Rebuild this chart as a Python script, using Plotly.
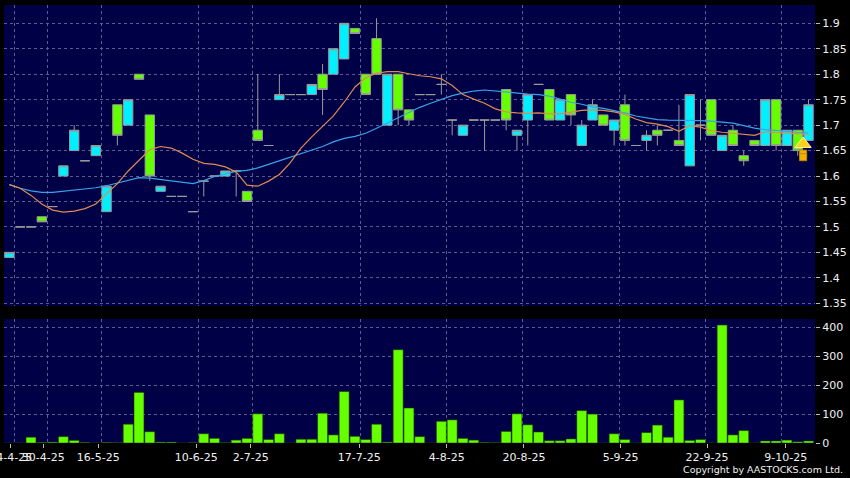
import plotly.graph_objects as go

# ---- data ----
idx = list(range(75))

opens = [1.44, 1.50, 1.50, 1.52, 1.54, 1.60, 1.65, 1.63, 1.64, 1.53,
         1.74, 1.70, 1.80, 1.72, 1.57, 1.56, 1.56, 1.53, 1.59, 1.60,
         1.60, 1.61, 1.57, 1.69, 1.66, 1.75, 1.76, 1.76, 1.76, 1.80,
         1.80, 1.83, 1.89, 1.80, 1.87, 1.70, 1.80, 1.73, 1.76, 1.76,
         1.78, 1.71, 1.68, 1.71, 1.71, 1.71, 1.77, 1.68, 1.71, 1.78,
         1.77, 1.71, 1.76, 1.66, 1.71, 1.72, 1.69, 1.74, 1.66, 1.67,
         1.69, 1.69, 1.67, 1.62, 1.70, 1.75, 1.65, 1.69, 1.64, 1.67,
         1.66, 1.75, 1.66, 1.69, 1.67]
highs = [1.45, 1.50, 1.50, 1.52, 1.54, 1.62, 1.70, 1.63, 1.66, 1.58,
         1.74, 1.75, 1.80, 1.72, 1.58, 1.56, 1.56, 1.53, 1.59, 1.60,
         1.61, 1.61, 1.57, 1.80, 1.66, 1.80, 1.76, 1.76, 1.78, 1.82,
         1.85, 1.90, 1.89, 1.80, 1.91, 1.80, 1.80, 1.73, 1.76, 1.76,
         1.80, 1.71, 1.70, 1.71, 1.71, 1.71, 1.77, 1.69, 1.76, 1.78,
         1.77, 1.75, 1.76, 1.71, 1.75, 1.72, 1.71, 1.76, 1.66, 1.69,
         1.70, 1.69, 1.74, 1.76, 1.75, 1.75, 1.68, 1.70, 1.65, 1.67,
         1.75, 1.75, 1.69, 1.69, 1.75]
lows = [1.44, 1.50, 1.50, 1.51, 1.54, 1.60, 1.65, 1.63, 1.64, 1.53,
        1.66, 1.70, 1.79, 1.59, 1.57, 1.56, 1.56, 1.53, 1.56, 1.60,
        1.60, 1.56, 1.55, 1.67, 1.66, 1.75, 1.76, 1.76, 1.76, 1.72,
        1.80, 1.83, 1.88, 1.76, 1.80, 1.70, 1.70, 1.70, 1.76, 1.76,
        1.76, 1.68, 1.68, 1.71, 1.65, 1.71, 1.69, 1.65, 1.66, 1.78,
        1.71, 1.71, 1.70, 1.66, 1.71, 1.70, 1.66, 1.66, 1.66, 1.65,
        1.66, 1.69, 1.66, 1.62, 1.67, 1.68, 1.65, 1.66, 1.62, 1.66,
        1.66, 1.65, 1.66, 1.64, 1.67]
closes = [1.45, 1.50, 1.50, 1.51, 1.54, 1.62, 1.69, 1.63, 1.66, 1.58,
          1.68, 1.75, 1.79, 1.60, 1.58, 1.56, 1.56, 1.53, 1.59, 1.60,
          1.61, 1.61, 1.55, 1.67, 1.66, 1.76, 1.76, 1.76, 1.78, 1.77,
          1.85, 1.90, 1.88, 1.76, 1.80, 1.80, 1.73, 1.71, 1.76, 1.76,
          1.78, 1.71, 1.70, 1.71, 1.71, 1.71, 1.71, 1.69, 1.76, 1.78,
          1.71, 1.75, 1.72, 1.70, 1.74, 1.70, 1.71, 1.67, 1.66, 1.68,
          1.68, 1.69, 1.66, 1.76, 1.70, 1.68, 1.68, 1.66, 1.63, 1.66,
          1.75, 1.66, 1.69, 1.65, 1.74]
volumes = [0, 0, 20, 2, 3, 22, 9, 2, 0, 2,
           1, 65, 175, 39, 3, 3, 0, 1, 32, 16,
           1, 10, 16, 101, 12, 32, 0, 13, 13, 103,
           28, 178, 23, 12, 65, 3, 323, 121, 22, 0,
           75, 80, 16, 10, 2, 1, 40, 101, 63, 38,
           8, 8, 14, 112, 100, 0, 32, 12, 0, 36,
           62, 20, 149, 9, 12, 0, 408, 28, 43, 0,
           7, 7, 10, 4, 7]
ma_short = [1.583, 1.576, 1.562, 1.545, 1.533, 1.529, 1.531, 1.536, 1.545, 1.565,
            1.585, 1.610, 1.632, 1.652, 1.658, 1.655, 1.645, 1.633, 1.625, 1.623,
            1.618, 1.608, 1.582, 1.580, 1.590, 1.603, 1.626, 1.655, 1.677, 1.697,
            1.718, 1.745, 1.775, 1.793, 1.802, 1.805, 1.805, 1.801, 1.797, 1.795,
            1.791, 1.778, 1.760, 1.751, 1.743, 1.732, 1.726, 1.724, 1.723, 1.724,
            1.722, 1.722, 1.726, 1.729, 1.730, 1.729, 1.726, 1.721, 1.712, 1.705,
            1.702, 1.697, 1.688, 1.699, 1.696, 1.689, 1.686, 1.684, 1.681, 1.680,
            1.687, 1.686, 1.685, 1.684, 1.682]
ma_long = [1.583, 1.576, 1.571, 1.568, 1.568, 1.570, 1.573, 1.575, 1.577, 1.581,
           1.586, 1.592, 1.597, 1.596, 1.593, 1.590, 1.588, 1.585, 1.591, 1.599,
           1.604, 1.609, 1.611, 1.616, 1.623, 1.630, 1.636, 1.643, 1.650, 1.658,
           1.667, 1.674, 1.678, 1.684, 1.694, 1.704, 1.714, 1.724, 1.735, 1.743,
           1.750, 1.758, 1.763, 1.767, 1.769, 1.767, 1.764, 1.762, 1.761, 1.760,
           1.757, 1.751, 1.745, 1.741, 1.736, 1.733, 1.729, 1.724, 1.718, 1.714,
           1.711, 1.710, 1.710, 1.710, 1.709, 1.708, 1.706, 1.704, 1.699, 1.694,
           1.691, 1.690, 1.688, 1.686, 1.685]

date_tick_pos = [0.12, 3.14, 8.23, 17.3, 22.35, 32.4, 40.5, 47.65, 56.6, 64.6, 71.9]
date_tick_text = ['24-4-25', '30-4-25', '16-5-25', '10-6-25', '2-7-25', '17-7-25',
                  '4-8-25', '20-8-25', '5-9-25', '22-9-25', '9-10-25']
date_grid_pos = [0.5, 3.5, 8.5, 17.5, 22.5, 32.5, 40.5, 47.5, 56.5, 64.5, 71.5]
price_ticks = [1.35, 1.40, 1.45, 1.50, 1.55, 1.60, 1.65, 1.70, 1.75, 1.80, 1.85, 1.90]
price_labels = ['1.35', '1.4', '1.45', '1.5', '1.55', '1.6', '1.65', '1.7', '1.75',
                '1.8', '1.85', '1.9']
vol_ticks = [0, 100, 200, 300, 400]

# signal arrow (last-but-one session)
signal_x = 73.5
signal_head = 1.663
signal_stem = 1.644

# ---- styling ----
CYAN = '#00f0ff'
GREEN = '#66ff00'
WICK = '#9a9a9a'
PLOT_BG = '#000046'
GRID = '#5c5c90'
TXT = '#f0f0f0'
FONT = 'DejaVu Sans'

fig = go.Figure()

fig.add_trace(go.Candlestick(
    x=idx, open=opens, high=highs, low=lows, close=closes,
    increasing=dict(fillcolor=CYAN, line=dict(color=WICK, width=1)),
    decreasing=dict(fillcolor=GREEN, line=dict(color=WICK, width=1)),
    whiskerwidth=0, xaxis='x', yaxis='y', showlegend=False, hoverinfo='skip'))

fig.add_trace(go.Scatter(x=idx, y=ma_long, mode='lines',
                         line=dict(color='#3aa2e8', width=1.2),
                         xaxis='x', yaxis='y', showlegend=False, hoverinfo='skip'))
fig.add_trace(go.Scatter(x=idx, y=ma_short, mode='lines',
                         line=dict(color='#e08a52', width=1.2),
                         xaxis='x', yaxis='y', showlegend=False, hoverinfo='skip'))

# yellow up-arrow indicator: stem + head
fig.add_trace(go.Scatter(x=[signal_x, signal_x], y=[signal_stem, signal_stem - 0.007],
                         mode='markers',
                         marker=dict(symbol='square', size=7, color='#f0b400',
                                     line=dict(color='#c08800', width=1)),
                         xaxis='x', yaxis='y', showlegend=False, hoverinfo='skip'))
fig.add_trace(go.Scatter(x=[signal_x], y=[signal_head], mode='markers',
                         marker=dict(symbol='triangle-up', size=14, color='#ffd21a',
                                     line=dict(color='#fff2a0', width=1)),
                         xaxis='x', yaxis='y', showlegend=False, hoverinfo='skip'))

fig.add_trace(go.Bar(x=idx, y=volumes, marker=dict(color=GREEN,
                                                    line=dict(color='rgba(20,60,0,0.9)', width=0.6)),
                     xaxis='x2', yaxis='y2', showlegend=False, hoverinfo='skip'))

xr = [-0.5, 74.6]
fig.update_layout(
    width=850, height=478,
    paper_bgcolor='#000000', plot_bgcolor=PLOT_BG,
    margin=dict(l=4, r=35, t=5, b=35, autoexpand=False),
    font=dict(family=FONT, size=11, color=TXT),
    boxgap=0.07, boxgroupgap=0.07, bargap=0.08,
    showlegend=False,
    xaxis=dict(domain=[0, 1], range=xr, anchor='y', automargin=False,
               rangeslider=dict(visible=False),
               tickmode='array', tickvals=date_grid_pos, showticklabels=False,
               ticks='', showgrid=True, gridcolor=GRID, griddash='3px,3px', gridwidth=1,
               zeroline=False, showline=False),
    yaxis=dict(domain=[0.3128, 1], range=[1.3447, 1.936], side='right', anchor='x',
               automargin=False,
               tickmode='array', tickvals=price_ticks, ticktext=price_labels,
               ticks='outside', ticklen=4, tickcolor='#bbbbbb',
               showgrid=True, gridcolor=GRID, griddash='3px,3px', gridwidth=1,
               zeroline=False, showline=False, tickfont=dict(size=11, color=TXT)),
    xaxis2=dict(domain=[0, 1], range=xr, anchor='y2', automargin=False,
                tickmode='array', tickvals=date_tick_pos, ticktext=date_tick_text,
                tickangle=0, ticks='outside', ticklen=4, tickcolor='#bbbbbb',
                ticklabeloverflow='allow',
                showgrid=False, zeroline=False, showline=False,
                tickfont=dict(size=11, color=TXT),
                minor=dict(tickmode='array', tickvals=date_grid_pos, showgrid=True,
                           gridcolor=GRID, griddash='3px,3px', gridwidth=1, ticks='')),
    yaxis2=dict(domain=[0, 0.2831], range=[0, 429], side='right', anchor='x2',
                automargin=False,
                tickmode='array', tickvals=vol_ticks,
                ticks='outside', ticklen=4, tickcolor='#bbbbbb',
                showgrid=True, gridcolor=GRID, griddash='3px,3px', gridwidth=1,
                zeroline=False, showline=False, tickfont=dict(size=11, color=TXT)),
)

fig.add_annotation(x=1.037, y=-0.0616, xref='paper', yref='paper',
                   xanchor='right', yanchor='middle', showarrow=False,
                   text='Copyright by AASTOCKS.com Ltd.',
                   font=dict(family=FONT, size=9.5, color=TXT))

fig.write_html('out.html', config={'displayModeBar': False},
               post_script="document.body.style.margin='0px';document.body.style.background='#000';")
